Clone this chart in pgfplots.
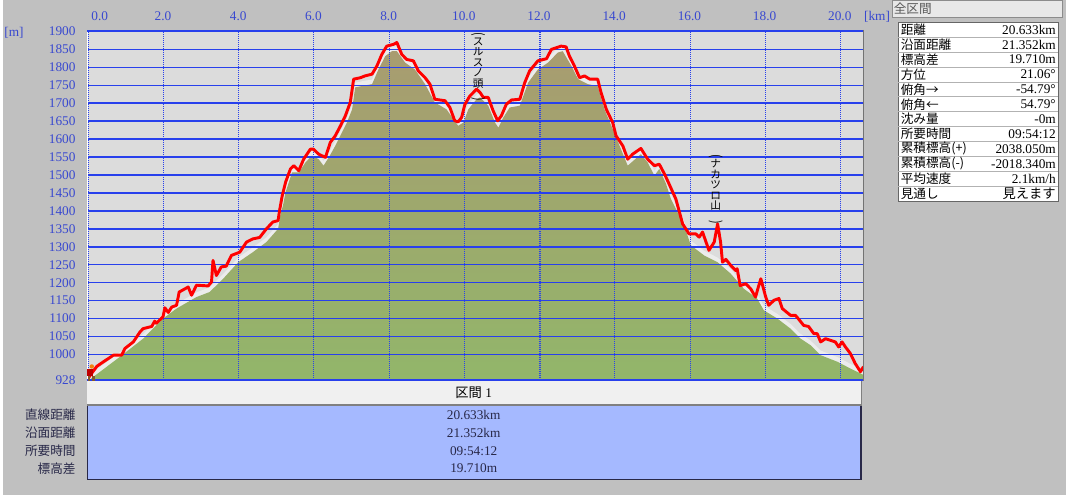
\documentclass[border=0pt]{standalone}
\usepackage{fontspec}
\setmainfont{Liberation Serif}
\newfontfamily\jp{Noto Sans CJK JP}
\usepackage{pgfplots}
\usepackage{pgfplotstable}
\pgfplotsset{compat=1.18}
\usetikzlibrary{shadings}

\definecolor{winbg}{RGB}{192,192,192}
\definecolor{plotbg}{RGB}{220,220,220}
\definecolor{gridblue}{RGB}{40,64,236}
\definecolor{tickblue}{RGB}{56,72,208}
\definecolor{terrtop}{RGB}{168,156,112}
\definecolor{terrbot}{RGB}{146,182,106}
\definecolor{bandgray}{RGB}{236,236,236}
\definecolor{tblblue}{RGB}{165,185,255}
\definecolor{navy}{RGB}{40,40,72}
\definecolor{hdrgray}{RGB}{240,240,240}
\definecolor{routered}{RGB}{255,0,0}

\pgfplotstableread{
x y
0.00 932
0.05 940
0.24 967
0.42 980
0.68 998
0.90 998
0.99 1017
1.21 1035
1.39 1063
1.47 1072
1.70 1078
1.78 1093
1.82 1087
2.00 1105
2.05 1130
2.14 1117
2.23 1132
2.36 1137
2.43 1174
2.67 1188
2.76 1165
2.89 1193
3.20 1191
3.29 1202
3.33 1262
3.42 1220
3.55 1244
3.68 1246
3.82 1276
4.04 1285
4.22 1313
4.39 1322
4.57 1326
4.75 1350
4.92 1369
5.06 1373
5.10 1401
5.17 1442
5.26 1480
5.39 1517
5.48 1526
5.61 1512
5.74 1544
5.92 1572
6.00 1572
6.14 1558
6.32 1549
6.45 1591
6.58 1609
6.72 1637
6.85 1665
6.98 1702
7.07 1767
7.25 1771
7.37 1776
7.56 1781
7.69 1804
7.82 1836
7.95 1859
8.13 1864
8.22 1869
8.35 1836
8.48 1822
8.66 1818
8.79 1790
8.97 1771
9.10 1753
9.23 1711
9.50 1707
9.63 1688
9.76 1651
9.85 1648
9.94 1660
10.03 1697
10.16 1720
10.34 1739
10.43 1730
10.52 1716
10.65 1716
10.78 1679
10.90 1651
11.00 1665
11.13 1697
11.27 1709
11.49 1711
11.62 1757
11.75 1790
11.97 1818
12.20 1824
12.33 1850
12.59 1859
12.72 1857
12.81 1831
12.94 1804
13.08 1771
13.21 1776
13.35 1767
13.56 1767
13.65 1730
13.79 1683
13.96 1646
14.05 1609
14.23 1581
14.36 1544
14.49 1558
14.71 1574
14.89 1544
15.07 1526
15.20 1530
15.35 1500
15.46 1475
15.64 1433
15.82 1364
15.99 1336
16.17 1336
16.26 1327
16.35 1341
16.52 1290
16.66 1313
16.75 1364
16.83 1313
16.88 1257
16.97 1265
17.10 1248
17.23 1234
17.27 1239
17.35 1192
17.50 1197
17.63 1183
17.76 1160
17.82 1183
17.90 1211
18.03 1160
18.11 1137
18.25 1151
18.38 1156
18.47 1128
18.69 1109
18.82 1109
18.91 1098
19.04 1081
19.17 1078
19.31 1058
19.40 1058
19.49 1035
19.62 1044
19.88 1035
19.97 1021
20.06 1035
20.15 1021
20.28 1003
20.41 975
20.55 952
20.63 966
}\route

\pgfplotstableread{
x y
0.00 928
0.05 930
0.86 994
1.47 1044
2.00 1100
2.36 1128
2.89 1160
3.24 1174
3.60 1211
4.00 1257
4.39 1285
4.75 1313
5.06 1350
5.12 1387
5.19 1415
5.26 1452
5.43 1507
5.61 1507
5.79 1535
5.96 1554
6.14 1544
6.27 1526
6.41 1549
6.58 1581
6.76 1619
6.89 1646
7.03 1683
7.11 1744
7.29 1748
7.56 1753
7.73 1794
7.91 1831
8.09 1845
8.22 1845
8.44 1813
8.70 1794
8.97 1753
9.23 1702
9.54 1683
9.72 1656
9.85 1637
9.99 1646
10.12 1683
10.34 1711
10.43 1716
10.65 1693
10.83 1646
10.92 1632
11.05 1660
11.22 1688
11.49 1693
11.71 1757
11.97 1794
12.24 1813
12.50 1841
12.63 1845
12.86 1804
13.04 1767
13.30 1753
13.56 1748
13.74 1683
13.96 1628
14.18 1572
14.36 1526
14.71 1558
14.89 1535
15.07 1498
15.20 1517
15.38 1475
15.51 1433
15.86 1359
16.04 1304
16.39 1276
16.75 1257
17.10 1225
17.45 1183
17.80 1156
17.98 1123
18.34 1100
18.69 1072
18.96 1044
19.22 1026
19.49 998
19.93 980
20.28 961
20.633 943
}\terrain

\begin{document}
\begin{tikzpicture}
\begin{scope}[x=0.75pt,y=-0.75pt]
\fill[winbg] (0,0) rectangle (1066,496);
\path[use as bounding box] (0,0) rectangle (1066,496);
\end{scope}

\begin{axis}[
  at={(63.75pt,-23.625pt)}, anchor=north west,
  width=583.5pt, height=262.44pt, scale only axis,
  xmin=0, xmax=20.633, ymin=928, ymax=1900,
  axis background/.style={fill=plotbg},
  axis line style={draw=none},
  tick style={draw=none},
  major tick length=0pt,
  xtick={0,2,...,20},
  xticklabels={\hspace*{18pt}0.0,2.0,4.0,6.0,8.0,10.0,12.0,14.0,16.0,18.0,20.0},
  ytick={928,1000,1050,1100,1150,1200,1250,1300,1350,1400,1450,1500,1550,1600,1650,1700,1750,1800,1850,1900},
  yticklabels={928,1000,1050,1100,1150,1200,1250,1300,1350,1400,1450,1500,1550,1600,1650,1700,1750,1800,1850,1900},
  xticklabel pos=upper,
  xticklabel style={font=\fontsize{10}{12}\selectfont, text=tickblue, yshift=4.5pt},
  yticklabel style={font=\fontsize{10}{12}\selectfont, text=tickblue, xshift=-5.7pt},
]
\addplot[draw=none, fill=bandgray, forget plot] table[x=x, y expr=\thisrow{y}+13] {\terrain} \closedcycle;
\addplot[draw=none, top color=terrtop, bottom color=terrbot, forget plot] table[x=x,y=y] {\terrain} \closedcycle;
\pgfplotsinvokeforeach{1000,1050,1100,1150,1200,1250,1300,1350,1400,1450,1500,1550,1600,1650,1700,1750,1800,1850}{
  \draw[gridblue, line width=1.1pt] (axis cs:0,#1) -- (axis cs:20.633,#1);
}
\pgfplotsinvokeforeach{0.0133,2.0024,4.018,6.007,8.023,10.012,12.027,14.016,16.032,18.021,20.010}{
  \draw[gridblue, line width=0.8pt, dash pattern=on 0.75pt off 0.75pt] (axis cs:#1,929.17) -- (axis cs:#1,1900);
}
\addplot[routered, line width=2.2pt, line join=round, mark=none] table[x=x,y=y] {\route};
\node[anchor=north, inner sep=0pt, align=center, font=\jp\fontsize{8}{7.9}\selectfont] at (axis cs:10.38,1897)
  {\rotatebox{-90}{\scalebox{1}[1.3]{(}}\\ス\\ル\\ス\\ノ\\頭\\\rotatebox{-90}{\scalebox{1}[1.3]{)}}};
\node[anchor=north, inner sep=0pt, align=center, font=\jp\fontsize{8}{7.9}\selectfont] at (axis cs:16.70,1557)
  {\rotatebox{-90}{\scalebox{1}[1.3]{(}}\\ナ\\カ\\ツ\\ロ\\山\\\rotatebox{-90}{\scalebox{1}[1.3]{)}}};
\end{axis}

\begin{scope}[x=0.75pt,y=-0.75pt]
% plot frame
\draw[white, line width=0.75pt] (84.4,30) -- (84.4,382);
\draw[gridblue, line width=1.5pt] (84,31) -- (863.5,31);
\draw[gridblue, line width=1.5pt] (84,381) -- (863.5,381);
\draw[black!55, line width=0.75pt] (863.2,30) -- (863.2,382);
% hiker
\fill[brown!70!black] (85,377) rectangle (87,383);
\fill[brown!70!black] (89,377) rectangle (92,383);
\fill[red!75!black] (84.5,370) rectangle (90.5,377.5);
\fill[orange!80!brown] (89,367.5) circle (2.2);
% axis unit labels
\node[text=tickblue, font=\fontsize{10}{12}\selectfont] at (11,33) {[m]};
\node[text=tickblue, font=\fontsize{10}{12}\selectfont] at (876.5,16.5) {[km]};

% right panel
\draw[fill={rgb,255:red,232;green,232;blue,232}, draw=black!45] (891.5,0.5) rectangle (1062.5,17);
\node[anchor=west, inner sep=0pt, text=black!65, font=\jp\fontsize{9.5}{11}\selectfont] at (893,9) {全区間};
\draw[fill=white, draw=black!60] (898,22.5) rectangle (1058,201.5);
\foreach \i in {1,...,11}{
  \draw[black!30, line width=0.6pt] (898,22.5+\i*14.92) -- (1058,22.5+\i*14.92);
}
\foreach \l/\v [count=\i] in {距離/20.633km, 沿面距離/21.352km, 標高差/19.710m, 方位/{21.06°}, 俯角→/{-54.79°}, 俯角←/{54.79°}, 沈み量/-0m, 所要時間/09:54:12, 累積標高(+)/2038.050m, 累積標高(-)/-2018.340m, 平均速度/{2.1km/h}, 見通し/{\jp 見えます}}{
  \node[anchor=west, inner sep=0pt, font=\jp\fontsize{9.5}{11}\selectfont] at (900,22.5+\i*14.92-7.46) {\l};
  \node[anchor=east, inner sep=0pt, font=\fontsize{10}{12}\selectfont] at (1056,22.5+\i*14.92-7.46) {\v};
}

% bottom section
\fill[hdrgray] (84,382.5) rectangle (861,406);
\draw[black!50, line width=1.5pt] (84,406) -- (861,406);
\draw[black!50, line width=0.75pt] (860.6,382.5) -- (860.6,406);
\node[font=\fontsize{10}{12}\selectfont] at (472,394) {{\jp 区間} 1};
\fill[tblblue] (84,407) rectangle (861,480);
\draw[navy, line width=0.9pt] (84.5,407) -- (84.5,480.5) -- (860.5,480.5) -- (860.5,407);
\foreach \v/\yy in {20.633km/416, 21.352km/434, 09:54:12/452, 19.710m/470}{
  \node[text=navy, font=\fontsize{10}{12}\selectfont] at (472,\yy) {\v};
}
\foreach \l/\yy in {直線距離/416, 沿面距離/434, 所要時間/452, 標高差/470}{
  \node[anchor=east, inner sep=0pt, text=navy, font=\jp\fontsize{9.5}{11}\selectfont] at (73,\yy) {\l};
}
\end{scope}
\end{tikzpicture}
\end{document}
